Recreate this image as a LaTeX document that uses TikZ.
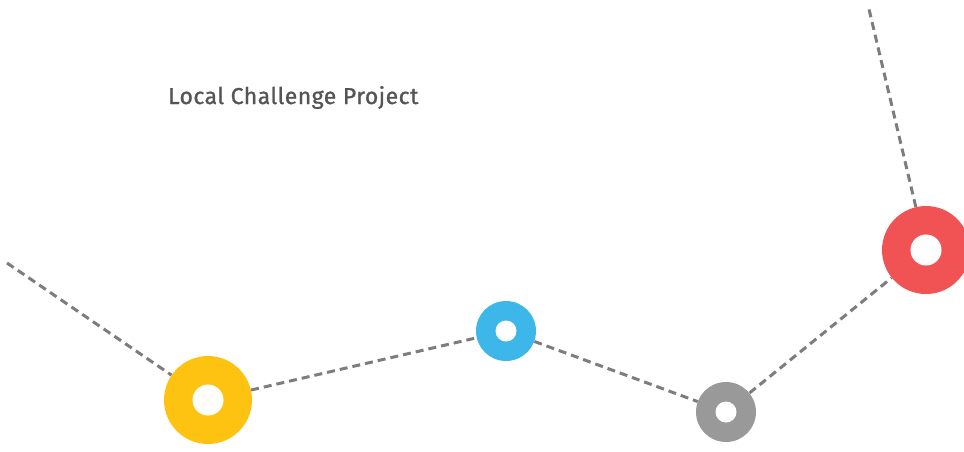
\documentclass[tikz,border=0pt]{standalone}
\usepackage{fontspec}
\setmainfont{Fira Sans}
\newfontfamily\titlefont{Fira Sans}[FakeBold=1, LetterSpace=2]
\definecolor{ringyellow}{RGB}{254,194,17}
\definecolor{ringblue}{RGB}{61,183,233}
\definecolor{ringgray}{RGB}{153,153,153}
\definecolor{ringred}{RGB}{241,83,85}
\definecolor{pathgray}{RGB}{125,125,125}
\definecolor{titlegray}{RGB}{85,85,85}
\tikzset{
  ring/.style={circle, inner sep=0pt, minimum size=#1},
  hole/.style={circle, inner sep=0pt, fill=white, minimum size=#1},
  trail/.style={pathgray, line width=3pt, dash pattern=on 8pt off 5pt}
}
\begin{document}
\begin{tikzpicture}[x=1pt, y=-1pt]
\useasboundingbox (0,0) rectangle (964,451);
\coordinate (S) at (7,263);
\coordinate (E) at (868,5);

\node[ring=88pt, fill=ringyellow] (Y) at (208,400) {};
\node[ring=60pt, fill=ringblue] (B) at (506,331) {};
\node[ring=60pt, fill=ringgray] (G) at (726,412) {};
\node[ring=88pt, fill=ringred] (R) at (926,250) {};

\draw[trail] (S) -- (Y);
\draw[trail] (Y) -- (B);
\draw[trail] (B) -- (G);
\draw[trail] (G) -- (R);
\draw[trail] (R) -- (E);

\node[hole=31pt] at (Y) {};
\node[hole=21pt] at (B) {};
\node[hole=21pt] at (G) {};
\node[hole=31pt] at (R) {};

\node[anchor=base west, inner sep=0pt, text=titlegray, font=\titlefont\fontsize{23}{28}\selectfont] (T) at (168,104) {Local Challenge Project};
\end{tikzpicture}
\end{document}
